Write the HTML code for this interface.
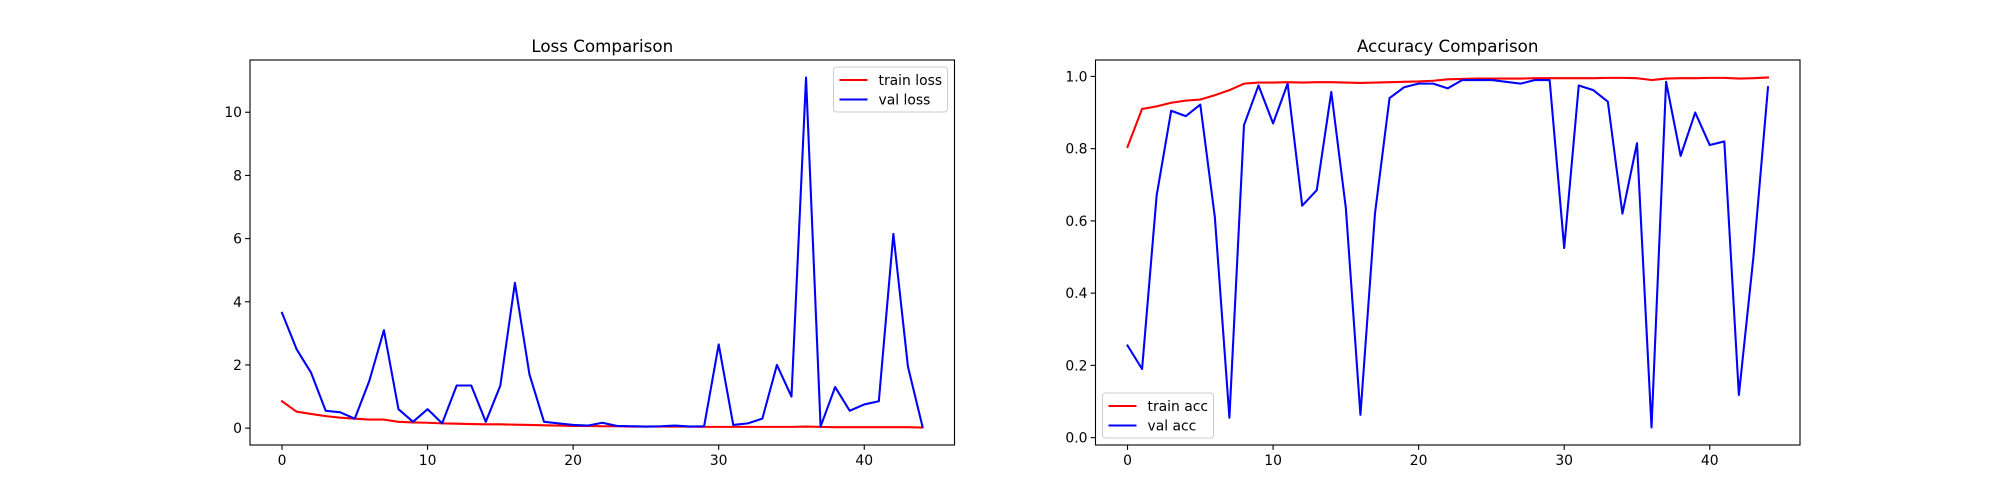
<!DOCTYPE html>
<html><head><meta charset="utf-8"><style>
html,body{margin:0;padding:0;background:#fff;}
svg{display:block;font-family:"DejaVu Sans","Liberation Sans",sans-serif;}
</style></head><body>
<svg id="fig" width="2000" height="500" viewBox="0 0 2000 500"></svg>
<script>
const epochs = Array.from({length:45},(_,i)=>i);
const trainLoss = [0.85,0.52,0.45,0.38,0.33,0.3,0.27,0.27,0.2,0.18,0.17,0.15,0.14,0.13,0.12,0.12,0.11,0.1,0.09,0.08,0.07,0.07,0.06,0.06,0.05,0.05,0.05,0.05,0.05,0.04,0.04,0.04,0.04,0.04,0.04,0.04,0.05,0.04,0.03,0.03,0.03,0.03,0.03,0.03,0.02];
const valLoss = [3.65,2.5,1.75,0.55,0.5,0.3,1.5,3.1,0.6,0.2,0.6,0.15,1.35,1.35,0.2,1.35,4.6,1.7,0.2,0.15,0.1,0.08,0.17,0.07,0.06,0.05,0.06,0.08,0.05,0.06,2.65,0.1,0.15,0.3,2.0,1.0,11.1,0.05,1.3,0.55,0.75,0.85,6.15,1.95,0.05];
const trainAcc = [0.805,0.91,0.917,0.927,0.933,0.936,0.948,0.962,0.98,0.983,0.983,0.984,0.983,0.984,0.984,0.983,0.982,0.983,0.984,0.985,0.986,0.988,0.992,0.993,0.994,0.994,0.994,0.994,0.995,0.995,0.995,0.995,0.995,0.996,0.996,0.995,0.99,0.994,0.995,0.995,0.996,0.996,0.994,0.995,0.997];
const valAcc = [0.255,0.19,0.67,0.905,0.89,0.922,0.61,0.055,0.865,0.975,0.87,0.98,0.642,0.685,0.957,0.635,0.063,0.62,0.94,0.97,0.98,0.98,0.967,0.99,0.99,0.99,0.985,0.98,0.99,0.99,0.525,0.975,0.962,0.93,0.62,0.815,0.028,0.985,0.78,0.9,0.81,0.82,0.118,0.5,0.97];
const xTicks = [0,10,20,30,40];
const lossTicks = [0,2,4,6,8,10];
const accTicks = [0.0,0.2,0.4,0.6,0.8,1.0];

const NS="http://www.w3.org/2000/svg";
const svg=document.getElementById('fig');
function mk(tag,attrs,parent){const e=document.createElementNS(NS,tag);for(const k in attrs)e.setAttribute(k,attrs[k]);(parent||svg).appendChild(e);return e;}

function panel(cfg){
  const L=cfg.left,R=cfg.left+704.5,T=60,B=445;
  const g=mk('g',{});
  
  
  const all=cfg.series.flatMap(s=>s.data);
  const mn=Math.min(...all),mx=Math.max(...all),pad=(mx-mn)*0.05;
  const y0=mn-pad,y1=mx+pad;
  const xs=v=>L+(v-(-2.2))/(48.4)*(R-L);
  const ys=v=>B-(v-y0)/(y1-y0)*(B-T);
  cfg.series.forEach(s=>{
    const p=mk('polyline',{points:s.data.map((v,i)=>xs(epochs[i]).toFixed(2)+','+ys(v).toFixed(2)).join(' '),fill:'none',stroke:s.color,'stroke-width':2.08,'stroke-linejoin':'round','stroke-linecap':'square'},g);
    
    
  });
  const fr=mk('rect',{x:L,y:T,width:R-L,height:B-T,fill:'none',stroke:'#000','stroke-width':1.1},g);
  
  
  xTicks.forEach(t=>{
    const x=xs(t);
    mk('line',{x1:x,x2:x,y1:B,y2:B+4.9,stroke:'#000','stroke-width':1.1},g);
    const tx=mk('text',{x:x,y:B+20,'font-size':13.9,'text-anchor':'middle'},g);
    tx.textContent=String(t);
    
    
  });
  cfg.yTicks.forEach(t=>{
    const y=ys(t);
    mk('line',{x1:L-4.9,x2:L,y1:y,y2:y,stroke:'#000','stroke-width':1.1},g);
    const tx=mk('text',{x:L-8,y:y+5,'font-size':13.9,'text-anchor':'end'},g);
    tx.textContent=cfg.fmt(t);
    
    
  });
  const ti=mk('text',{x:(L+R)/2,y:T-8,'font-size':16.7,'text-anchor':'middle'},g);
  ti.textContent=cfg.title;
  
  
  // legend
  const lw=cfg.legW,lh=45;
  const lx=cfg.legPos==='ur'?R-7-lw:L+7;
  const ly=cfg.legPos==='ur'?T+7:B-7-lh;
  const lg=mk('g',{},g);
  
  
  mk('rect',{x:lx,y:ly,width:lw,height:lh,rx:3,fill:'#fff','fill-opacity':0.8,stroke:'#ccc','stroke-width':1},lg);
  cfg.series.forEach((s,i)=>{
    const yy=ly+13+i*19.5;
    mk('line',{x1:lx+6,x2:lx+34,y1:yy,y2:yy,stroke:s.color,'stroke-width':2.08},lg);
    const t=mk('text',{x:lx+45,y:yy+5,'font-size':13.9},lg);
    t.textContent=s.label;
    
    
  });
}
panel({name:'loss-chart',left:250,title:'Loss Comparison',yTicks:lossTicks,fmt:t=>String(t),legPos:'ur',legW:114,
  series:[{key:'train-loss',label:'train loss',color:'#ff0000',data:trainLoss},{key:'val-loss',label:'val loss',color:'#0000ff',data:valLoss}]});
panel({name:'accuracy-chart',left:1095.5,title:'Accuracy Comparison',yTicks:accTicks,fmt:t=>t.toFixed(1),legPos:'ll',legW:111,
  series:[{key:'train-acc',label:'train acc',color:'#ff0000',data:trainAcc},{key:'val-acc',label:'val acc',color:'#0000ff',data:valAcc}]});
</script>
</body></html>
